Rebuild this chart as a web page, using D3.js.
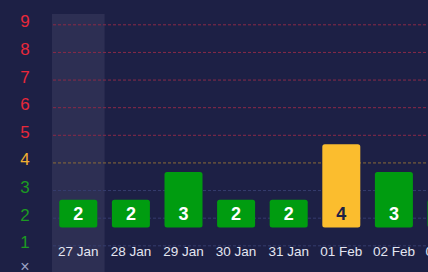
<!DOCTYPE html>
<html><head><meta charset="utf-8">
<script src="https://cdn.jsdelivr.net/npm/d3@7"></script>
<style>
html,body{margin:0;padding:0;background:#1d2045;overflow:hidden;}
svg{display:block;font-family:"Liberation Sans",Arial,sans-serif;}
</style></head>
<body>
<svg id="c" width="428" height="272"></svg>
<script>
const dates = ["27 Jan","28 Jan","29 Jan","30 Jan","31 Jan","01 Feb","02 Feb","03 Feb"];
const values = [2,2,3,2,2,4,3,2];
const yTicks = [1,2,3,4,5,6,7,8,9];
const highlighted = "27 Jan";

const W = 428, H = 272;
const svg = d3.select("#c");
svg.append("rect").attr("width",W).attr("height",H).attr("fill","#1d2045");

const x = d3.scaleBand().domain(dates).range([52, 52 + 52.6*dates.length]).paddingInner(0).paddingOuter(0);
const yGrid = d3.scaleLinear().domain([1,9]).range([245.3, 24.3]);
const yBar = d3.scaleLinear().domain([1,9]).range([227.5, 227.5 - 8*27.75]);

function levelColor(v){ return v>=5 ? "#e8283a" : v===4 ? "#f2b030" : "#1c9a22"; }
function gridColor(v){ return v>=5 ? "#8a2a48" : v===4 ? "#8a6a38" : "#363c6e"; }

// highlight band
svg.append("rect")
  .attr("x", x(highlighted)).attr("y", 14)
  .attr("width", x.bandwidth()).attr("height", H-14)
  .attr("fill", "#2d2f53");

// gridlines
svg.append("g").selectAll("line").data(yTicks).join("line")
  .attr("x1", 53).attr("x2", W)
  .attr("y1", d=>yGrid(d)+0.5).attr("y2", d=>yGrid(d)+0.5)
  .attr("stroke", d=>gridColor(d)).attr("stroke-width",1)
  .attr("stroke-dasharray","3,2");

// y labels
svg.append("g").selectAll("text").data(yTicks).join("text")
  .attr("x", 25).attr("y", d=>yGrid(d)-2.5)
  .attr("text-anchor","middle").attr("dominant-baseline","central")
  .attr("font-size",17).attr("fill", d=>levelColor(d))
  .text(d=>d);
svg.append("text").attr("x",25).attr("y",266).attr("text-anchor","middle")
  .attr("dominant-baseline","central").attr("font-size",16).attr("fill","#9ca2c4").text("×");

// bars
const bw = 38;
const bars = svg.append("g").selectAll("g").data(dates).join("g");
bars.append("rect")
  .attr("x", d=>x(d)+x.bandwidth()/2-bw/2)
  .attr("y", (d,i)=>yBar(values[i]))
  .attr("width", bw)
  .attr("height", (d,i)=>yBar(1)-yBar(values[i]))
  .attr("rx",2.5)
  .attr("fill",(d,i)=>values[i]>=4 ? "#fbbd2e" : "#009c10");
bars.append("text")
  .attr("x", d=>x(d)+x.bandwidth()/2)
  .attr("y", yBar(1)-13.5)
  .attr("text-anchor","middle").attr("dominant-baseline","central")
  .attr("font-size",18).attr("font-weight","bold")
  .attr("fill",(d,i)=>values[i]>=4 ? "#1d2045" : "#ffffff")
  .text((d,i)=>values[i]);
bars.append("text")
  .attr("x", d=>x(d)+x.bandwidth()/2)
  .attr("y", 251)
  .attr("text-anchor","middle").attr("dominant-baseline","central")
  .attr("font-size",13.5).attr("fill","#e4e6f2")
  .text(d=>d);
</script>
</body></html>
